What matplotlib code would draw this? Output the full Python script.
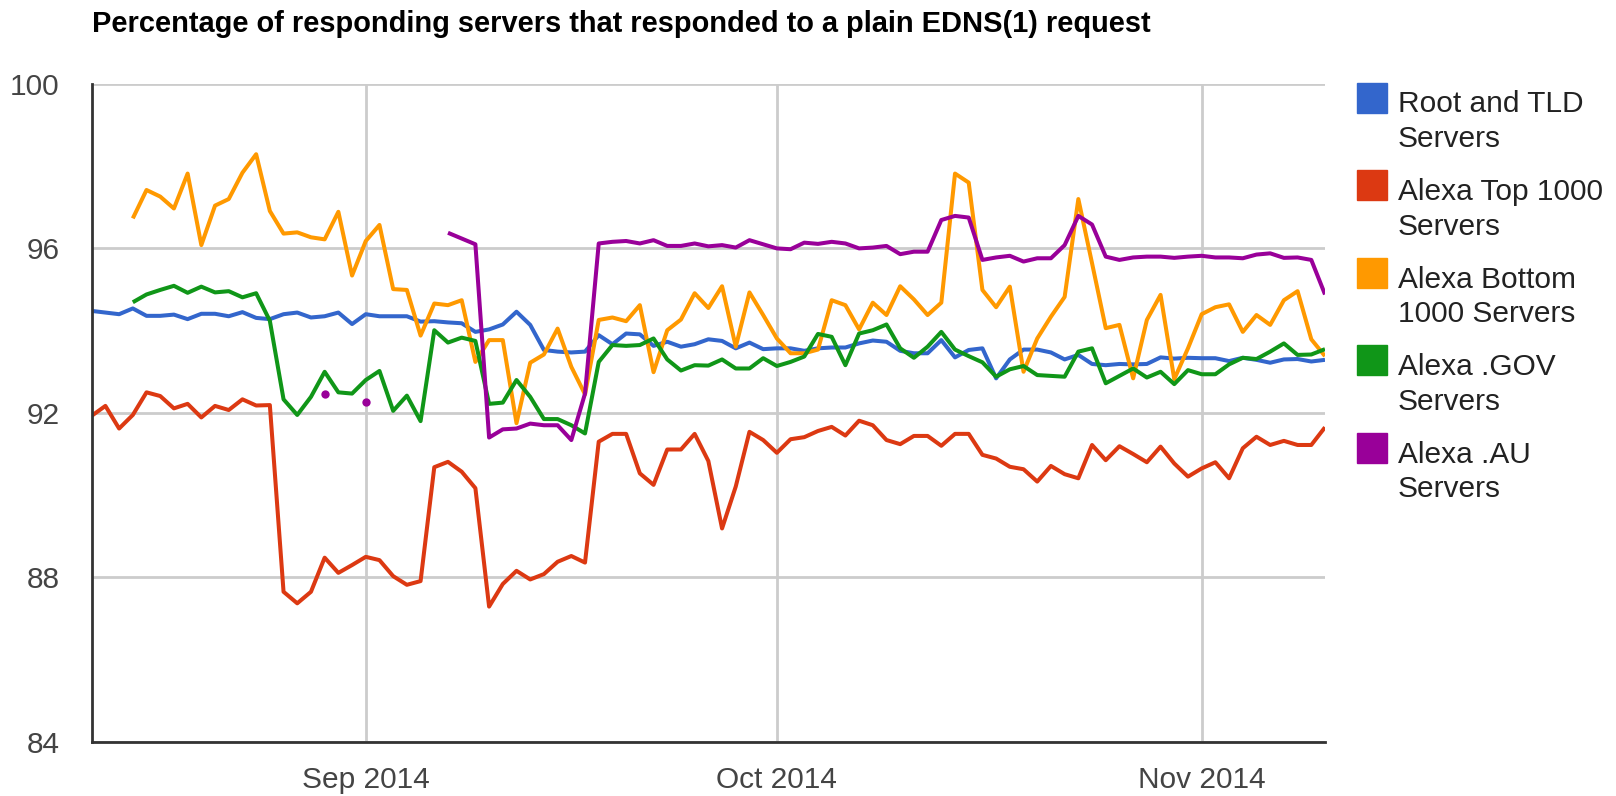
import numpy as np
import pandas as pd
import matplotlib
matplotlib.use("Agg")
import matplotlib.pyplot as plt
import matplotlib.dates as mdates
from matplotlib.patches import Rectangle

plt.rcParams['font.family'] = ['Liberation Sans', 'DejaVu Sans']

nan = np.nan
dates = pd.date_range("2014-08-12", "2014-11-10", freq="D")

root_tld = [94.48, 94.44, 94.40, 94.54, 94.36, 94.36, 94.39, 94.28, 94.41, 94.41, 94.35, 94.45,
            94.31, 94.28, 94.40, 94.44, 94.32, 94.35, 94.44, 94.16, 94.40, 94.35, 94.35,
            94.35, 94.22, 94.23, 94.20, 94.18, 93.97, 94.03, 94.15, 94.46, 94.14, 93.53, 93.49,
            93.47, 93.49, 93.89, 93.67, 93.93, 93.91, 93.63, 93.73, 93.61, 93.67, 93.79,
            93.75, 93.57, 93.71, 93.55, 93.57, 93.57, 93.51, 93.57, 93.59, 93.59, 93.69, 93.76,
            93.73, 93.51, 93.45, 93.45, 93.77, 93.35, 93.53, 93.57, 92.84, 93.30, 93.54,
            93.54, 93.47, 93.30, 93.41, 93.19, 93.16, 93.19, 93.18, 93.19, 93.35, 93.32, 93.34,
            93.33, 93.33, 93.26, 93.34, 93.29, 93.22, 93.30, 93.31, 93.25, 93.29]

top_1000 = [91.93, 92.17, 91.62, 91.95, 92.50, 92.41, 92.11, 92.22, 91.89, 92.17, 92.07, 92.33,
            92.18, 92.19, 87.65, 87.37, 87.65, 88.48, 88.11, 88.30, 88.50, 88.42, 88.03,
            87.82, 87.91, 90.68, 90.81, 90.57, 90.17, 87.29, 87.84, 88.16, 87.95, 88.08, 88.38,
            88.52, 88.36, 91.30, 91.49, 91.49, 90.53, 90.25, 91.11, 91.11, 91.49, 90.83,
            89.19, 90.21, 91.54, 91.34, 91.03, 91.36, 91.41, 91.56, 91.66, 91.45, 91.81, 91.70,
            91.34, 91.24, 91.44, 91.44, 91.20, 91.49, 91.49, 90.98, 90.89, 90.69, 90.63,
            90.33, 90.71, 90.51, 90.41, 91.22, 90.85, 91.19, 91.00, 90.80, 91.18, 90.77, 90.45,
            90.65, 90.80, 90.41, 91.14, 91.42, 91.22, 91.32, 91.22, 91.22, 91.65]

bottom_1000 = [nan, nan, nan,
               96.73, 97.42, 97.26, 96.97, 97.82, 96.08, 97.04, 97.20, 97.84, 98.29, 96.91,
               96.36, 96.39, 96.27, 96.22, 96.89, 95.34, 96.18, 96.57, 95.01,
               94.99, 93.88, 94.66, 94.62, 94.74, 93.24, 93.77, 93.77, 91.75, 93.22, 93.42, 94.05,
               93.12, 92.45, 94.26, 94.32, 94.23, 94.62, 92.99, 94.01, 94.27, 94.91, 94.55,
               95.08, 93.61, 94.93, 94.38, 93.81, 93.45, 93.45, 93.54, 94.74, 94.62, 94.03, 94.68,
               94.38, 95.08, 94.76, 94.38, 94.68, 97.82, 97.60, 94.99, 94.57, 95.07, 93.00,
               93.81, 94.34, 94.82, 97.20, 95.64, 94.06, 94.14, 92.84, 94.26, 94.87, 92.82, 93.57,
               94.40, 94.57, 94.64, 93.97, 94.38, 94.14, 94.74, 94.96, 93.79, 93.38]

gov = [nan, nan, nan,
       94.69, 94.88, 94.99, 95.09, 94.92, 95.07, 94.93, 94.96, 94.81, 94.91, 94.24,
       92.33, 91.95, 92.39, 93.00, 92.50, 92.47, 92.80, 93.02, 92.05,
       92.42, 91.80, 94.01, 93.71, 93.83, 93.75, 92.22, 92.25, 92.80, 92.39, 91.85, 91.85,
       91.70, 91.50, 93.24, 93.65, 93.63, 93.65, 93.81, 93.30, 93.03, 93.16, 93.15,
       93.30, 93.08, 93.08, 93.33, 93.14, 93.24, 93.37, 93.92, 93.85, 93.16, 93.93, 94.01,
       94.15, 93.57, 93.34, 93.61, 93.97, 93.54, 93.38, 93.23, 92.88, 93.06, 93.14,
       92.92, 92.90, 92.88, 93.49, 93.57, 92.72, 92.90, 93.08, 92.86, 93.00, 92.70, 93.04,
       92.94, 92.94, 93.18, 93.34, 93.31, 93.49, 93.69, 93.41, 93.42, 93.55]

au = [nan] * 17 + [92.45, nan, nan, 92.26] + [nan] * 5 + [
      96.38, 96.24, 96.10, 91.40, 91.60, 91.62, 91.74, 91.70, 91.70, 91.34, 92.47,
      96.12, 96.16, 96.18, 96.12, 96.20, 96.06, 96.06, 96.12, 96.05,
      96.08, 96.02, 96.20, 96.10, 96.00, 95.98, 96.14, 96.11, 96.16, 96.12, 96.00, 96.02,
      96.06, 95.86, 95.92, 95.92, 96.69, 96.79, 96.75, 95.72, 95.78, 95.82, 95.68,
      95.76, 95.76, 96.08, 96.79, 96.58, 95.80, 95.72, 95.78, 95.80, 95.80, 95.77, 95.80,
      95.82, 95.78, 95.78, 95.76, 95.85, 95.88, 95.77, 95.78, 95.72, 94.88]

series = [root_tld, top_1000, bottom_1000, gov, au]
labels = ["Root and TLD\nServers", "Alexa Top 1000\nServers", "Alexa Bottom\n1000 Servers",
          "Alexa .GOV\nServers", "Alexa .AU\nServers"]
colors = ["#3366cc", "#dc3912", "#ff9900", "#109618", "#990099"]

W, H = 1616, 796
fig = plt.figure(figsize=(W / 100, H / 100), dpi=100)
ax = fig.add_axes([91.7 / W, 1 - 741.9 / H, (1325 - 91.7) / W, (741.9 - 83.9) / H])

for vals, c in zip(series, colors):
    y = np.array(vals, dtype=float)
    ax.plot(dates, y, color=c, lw=2.9, solid_joinstyle='round', solid_capstyle='butt', zorder=3)
    # single points with gaps on both sides are drawn as dots
    ok = ~np.isnan(y)
    prev = np.r_[False, ok[:-1]]
    nxt = np.r_[ok[1:], False]
    lone = ok & ~prev & ~nxt
    ax.plot(dates[lone], y[lone], 'o', color=c, ms=6, mec='none', zorder=3)

ax.set_xlim(dates[0], dates[-1])
ax.set_ylim(84, 100)
ax.set_yticks([84, 88, 92, 96, 100])
ax.xaxis.set_major_locator(mdates.MonthLocator())
ax.xaxis.set_major_formatter(mdates.DateFormatter("%b %Y"))
ax.grid(True, color="#cccccc", lw=2.0, zorder=1)
ax.set_axisbelow(True)
for s in ["top", "right"]:
    ax.spines[s].set_visible(False)
for s in ["left", "bottom"]:
    ax.spines[s].set_color("#333333")
    ax.spines[s].set_linewidth(2.0)
    ax.spines[s].set_zorder(4)
ax.tick_params(length=0, labelsize=21.5, labelcolor="#444444")
ax.tick_params(axis='y', pad=23)
ax.tick_params(axis='x', pad=17)

fig.text(91.7 / W, 1 - 32 / H, "Percentage of responding servers that responded to a plain EDNS(1) request",
         fontsize=20.9, fontweight='bold', color='black', va='baseline', ha='left')

# legend: square beside the first line of each two-line label
# (va='baseline' on a multi-line text pins the last line, hence the +37)
for i, (lab, c) in enumerate(zip(labels, colors)):
    cy = 97.7 + 87.6 * i
    fig.patches.append(Rectangle((1356.7 / W, 1 - (cy + 15) / H), 30 / W, 30 / H,
                                 transform=fig.transFigure, color=c, figure=fig))
    fig.text(1397.7 / W, 1 - (cy + 12.3 + 37) / H, lab, fontsize=21.5, color="#222222",
             va='baseline', ha='left', linespacing=1.3)

fig.savefig("out.png", dpi=100)
